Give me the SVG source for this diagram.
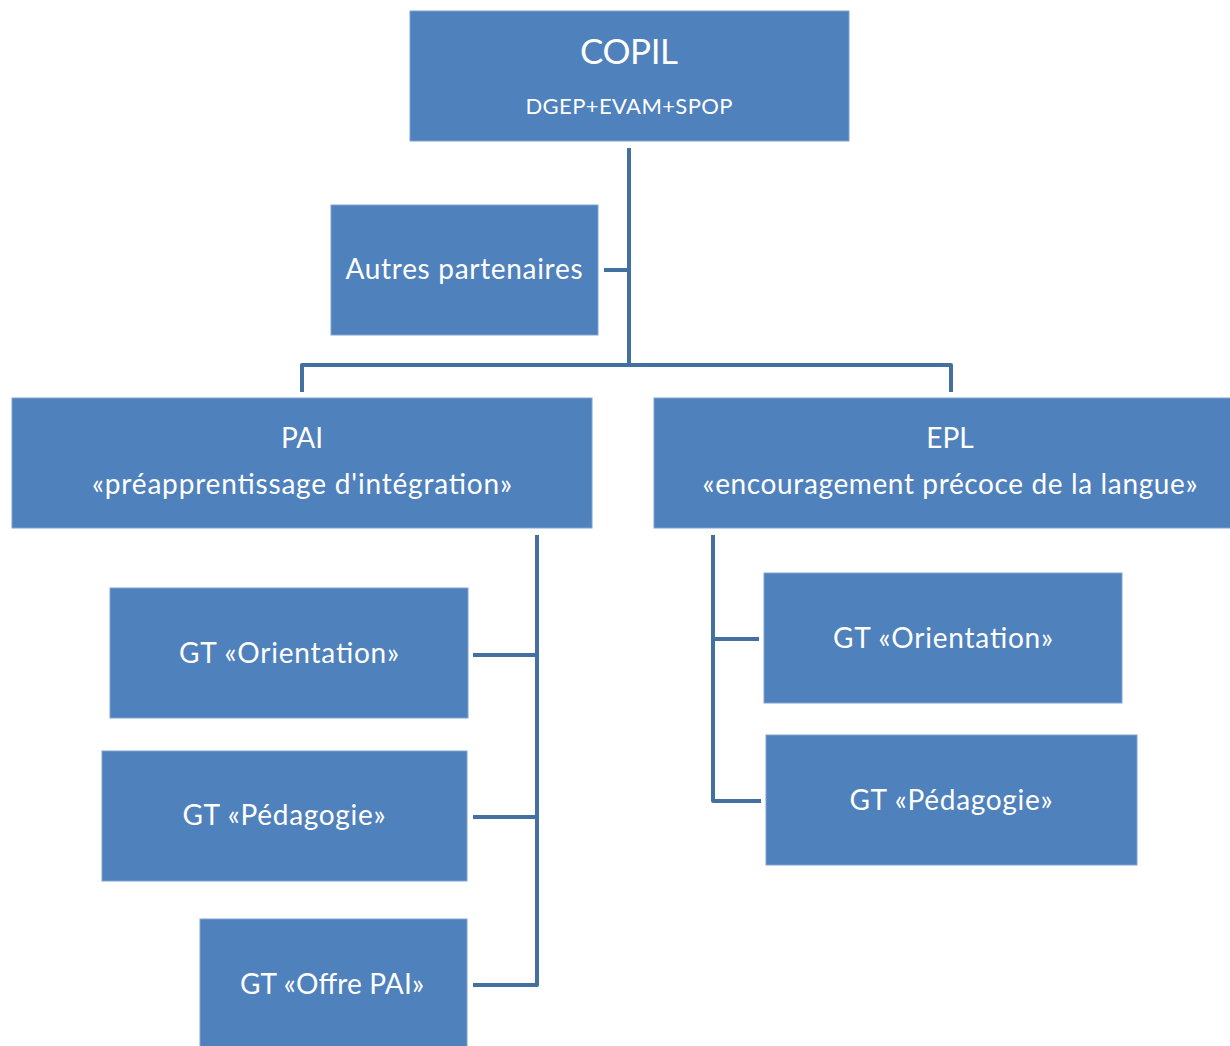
<svg xmlns="http://www.w3.org/2000/svg" width="1230" height="1046" viewBox="0 0 1230 1046">
<style>
.box{fill:#4F81BD;stroke:#7FA3D0;stroke-width:1}
.t{fill:#FFFFFF;font-family:Lato,"Open Sans","Liberation Sans",sans-serif;text-anchor:middle;font-size:28px}
.c{fill:none;stroke:#44709F;stroke-width:4;stroke-linejoin:round}
</style>
<rect width="1230" height="1046" fill="#FFFFFF"/>
<g id="connectors">
<path class="c" d="M629,148 V365"/>
<path class="c" d="M604,270 H629"/>
<path class="c" d="M302,392 V365 H951 V392"/>
<path class="c" d="M537,535 V985 H473"/>
<path class="c" d="M473,655 H537"/>
<path class="c" d="M473,817 H537"/>
<path class="c" d="M713,535 V801 H761"/>
<path class="c" d="M713,639 H759"/>
</g>
<g id="copil">
<rect class="box" x="410" y="11" width="439" height="130"/>
<text class="t" x="629" y="64" style="font-size:35px" textLength="98" lengthAdjust="spacing">COPIL</text>
<text class="t" x="629" y="114" style="font-size:22px" textLength="207" lengthAdjust="spacing">DGEP+EVAM+SPOP</text>
</g>
<g id="autres">
<rect class="box" x="331" y="205" width="267" height="130"/>
<text class="t" x="464" y="279" textLength="237" lengthAdjust="spacing">Autres partenaires</text>
</g>
<g id="pai">
<rect class="box" x="12" y="398" width="580" height="130"/>
<text class="t" x="302" y="448">PAI</text>
<text class="t" x="302" y="494" textLength="420" lengthAdjust="spacing">«préapprentissage d'intégration»</text>
</g>
<g id="epl">
<rect class="box" x="654" y="398" width="580" height="130"/>
<text class="t" x="950" y="448">EPL</text>
<text class="t" x="950" y="494" textLength="495" lengthAdjust="spacing">«encouragement précoce de la langue»</text>
</g>
<g id="pai-orientation">
<rect class="box" x="110" y="588" width="358" height="130"/>
<text class="t" x="289" y="663" textLength="220" lengthAdjust="spacing">GT «Orientation»</text>
</g>
<g id="pai-pedagogie">
<rect class="box" x="102" y="751" width="365" height="130"/>
<text class="t" x="284" y="825" textLength="203" lengthAdjust="spacing">GT «Pédagogie»</text>
</g>
<g id="pai-offre">
<rect class="box" x="200" y="919" width="267" height="140"/>
<text class="t" x="332" y="994" textLength="184" lengthAdjust="spacing">GT «Offre PAI»</text>
</g>
<g id="epl-orientation">
<rect class="box" x="764" y="573" width="358" height="130"/>
<text class="t" x="943" y="648" textLength="220" lengthAdjust="spacing">GT «Orientation»</text>
</g>
<g id="epl-pedagogie">
<rect class="box" x="766" y="735" width="371" height="130"/>
<text class="t" x="951" y="810" textLength="203" lengthAdjust="spacing">GT «Pédagogie»</text>
</g>
</svg>
